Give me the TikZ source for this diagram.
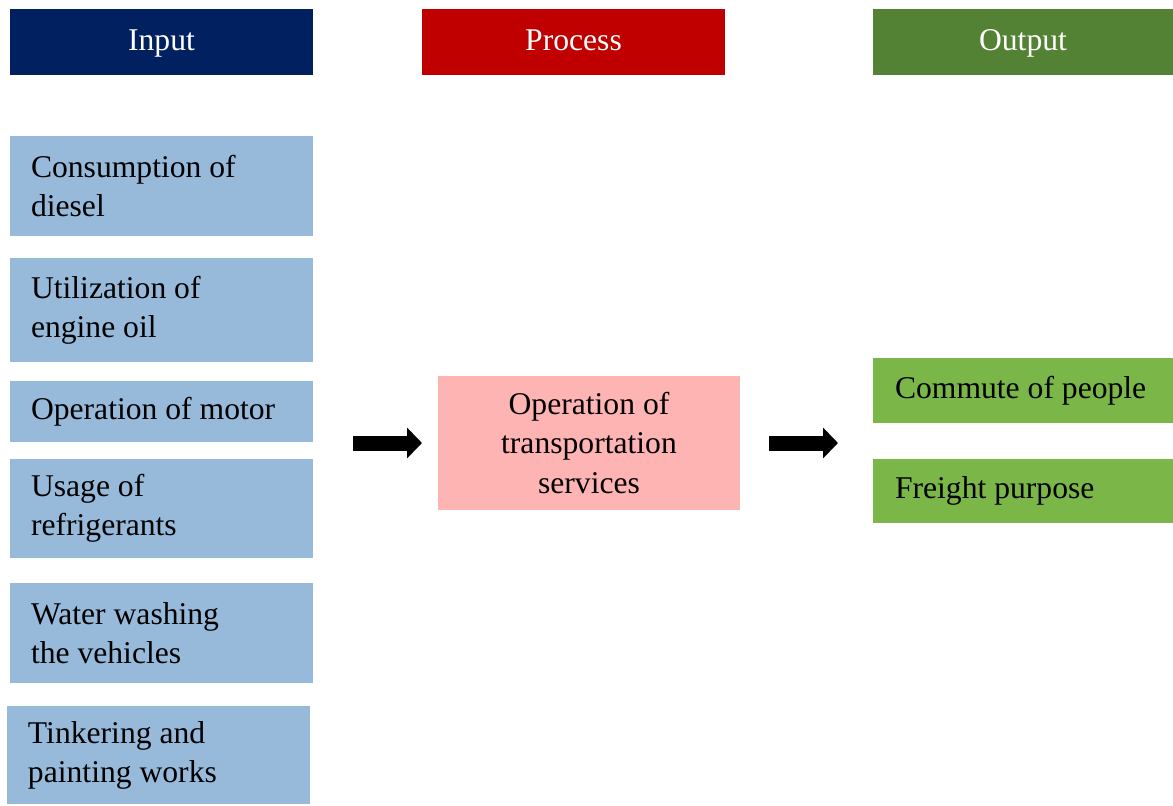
\documentclass[tikz,border=0pt]{standalone}
\usepackage{fontspec}
\setmainfont{Liberation Serif}
\usetikzlibrary{positioning,arrows.meta}

\definecolor{inNavy}{HTML}{002060}
\definecolor{procRed}{HTML}{C00000}
\definecolor{outDarkGreen}{HTML}{548235}
\definecolor{inBlue}{HTML}{97BADB}
\definecolor{procPink}{HTML}{FFB4B4}
\definecolor{outGreen}{HTML}{7AB648}

\tikzstyle{headNode} = [rectangle, minimum width=6.06cm, minimum height=1.32cm, inner sep=0pt, outer sep=0pt, text height=0.45cm, text depth=0.13cm, text centered, text=white]
\tikzstyle{inNode} = [rectangle, fill=inBlue, text width=5.22cm, inner xsep=0.42cm, inner ysep=0pt, outer sep=0pt, align=flush left]
\tikzstyle{procNode} = [rectangle, fill=procPink, text width=5.2cm, inner xsep=0.42cm, inner ysep=0pt, outer sep=0pt, minimum height=2.68cm, align=flush center]
\tikzstyle{outNode} = [rectangle, fill=outGreen, text width=5.12cm, inner xsep=0.44cm, inner ysep=0pt, outer sep=0pt, align=flush left]
\tikzstyle{bigArrow} = [line width=0.3cm, -{Triangle[width=0.6cm,length=0.3cm]}]

\begin{document}
\begin{tikzpicture}[font=\fontsize{18}{22.2}\selectfont]
    \useasboundingbox (0,0) rectangle (23.46,-16.1);

    \node (input)[headNode, fill=inNavy] at (3.23,-0.84) {Input};
    \node (process)[headNode, fill=procRed] at (11.47,-0.84) {Process};
    \node (output)[headNode, fill=outDarkGreen, minimum width=6cm] at (20.46,-0.84) {Output};

    \node (diesel)[inNode, minimum height=2cm, below=1.22cm of input] {Consumption of\\diesel};
    \node (oil)[inNode, minimum height=2.08cm, below=0.44cm of diesel] {Utilization of\\engine oil};
    \node (motor)[inNode, minimum height=1.22cm, below=0.38cm of oil] {Operation of motor};
    \node (refrig)[inNode, minimum height=1.98cm, below=0.34cm of motor] {Usage of\\refrigerants};
    \node (water)[inNode, minimum height=2cm, below=0.5cm of refrig] {Water washing\\the vehicles};
    \node (paint)[inNode, minimum height=1.96cm, below=0.46cm of water, xshift=-0.06cm] {Tinkering and\\painting works};

    \node (transport)[procNode] at (11.78,-8.86) {Operation of\\transportation\\services};

    \node (commute)[outNode, minimum height=1.3cm] at (20.46,-7.81) {Commute of people};
    \node (freight)[outNode, minimum height=1.28cm, below=0.72cm of commute] {Freight purpose};

    \draw [bigArrow, shorten <=0.8cm, shorten >=0.32cm] (motor.east |- transport.west) -- (transport.west);
    \draw [bigArrow, shorten <=0.58cm, shorten >=0.7cm] (transport.east) -- (commute.west |- transport.east);
\end{tikzpicture}
\end{document}
